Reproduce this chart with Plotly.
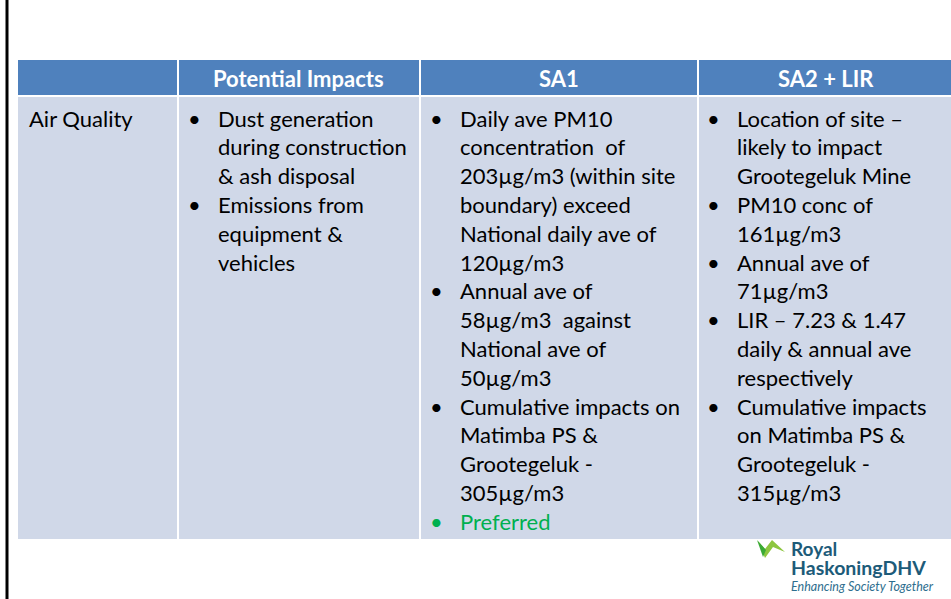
import plotly.graph_objects as go

# ---- data ----
headers = ["", "Potential Impacts", "SA1", "SA2 + LIR"]
row_label = "Air Quality"
potential_impacts = [
    ["Dust generation", "during construction", "& ash disposal"],
    ["Emissions from", "equipment &", "vehicles"],
]
sa1 = [
    ["Daily ave PM10", "concentration  of", "203\u00b5g/m3 (within site", "boundary) exceed",
     "National daily ave of", "120\u00b5g/m3"],
    ["Annual ave of", "58\u00b5g/m3  against", "National ave of", "50\u00b5g/m3"],
    ["Cumulative impacts on", "Matimba PS &", "Grootegeluk -", "305\u00b5g/m3"],
    ["Preferred"],
]
sa1_colors = ["#000000", "#000000", "#000000", "#00B050"]
sa2_lir = [
    ["Location of site \u2013", "likely to impact", "Grootegeluk Mine"],
    ["PM10 conc of", "161\u00b5g/m3"],
    ["Annual ave of", "71\u00b5g/m3"],
    ["LIR \u2013 7.23 & 1.47", "daily & annual ave", "respectively"],
    ["Cumulative impacts", "on Matimba PS &", "Grootegeluk -", "315\u00b5g/m3"],
]
logo_lines = ["Royal", "HaskoningDHV", "Enhancing Society Together"]

# ---- layout geometry (pixels of the browser window) ----
W, H = 951, 599
col_edges = [18, 178, 420, 698, 960]
head_top, head_bot, body_top, body_bot = 60, 95, 97, 539
HEAD_C, BODY_C = "#4F81BD", "#D0D8E8"
FONT = "Lato"
FS = 22
LINE = 28.8
first_y = 118

fig = go.Figure()
fig.update_xaxes(range=[0, W], visible=False, fixedrange=True)
fig.update_yaxes(range=[H, 0], visible=False, fixedrange=True)

shapes = []
# left black slide border
shapes.append(dict(type="line", x0=7, x1=7, y0=0, y1=H, line=dict(color="black", width=3)))
for i in range(4):
    x0 = col_edges[i] + (0 if i == 0 else 1)
    x1 = col_edges[i + 1] - 1
    shapes.append(dict(type="rect", x0=x0, x1=x1, y0=head_top, y1=head_bot,
                       fillcolor=HEAD_C, line=dict(width=0), layer="below"))
    shapes.append(dict(type="rect", x0=x0, x1=x1, y0=body_top, y1=body_bot,
                       fillcolor=BODY_C, line=dict(width=0), layer="below"))

ann = []
centers = [98, 298, 559, 826]
for i, h in enumerate(headers):
    if h:
        ann.append(dict(x=centers[i], y=(head_top + head_bot) / 2 + 1,
                        text="<b>" + h + "</b>", showarrow=False, xanchor="center", yanchor="middle",
                        font=dict(family=FONT, size=FS, color="white")))
ann.append(dict(x=27, y=first_y, text=row_label, showarrow=False, xanchor="left", yanchor="middle",
                font=dict(family=FONT, size=FS, color="black")))


def bullets(groups, bx, tx, colors=None):
    k = 0
    for gi, g in enumerate(groups):
        c = colors[gi] if colors else "#000000"
        ann.append(dict(x=bx, y=first_y + k * LINE, text="\u2022", showarrow=False, xanchor="center",
                        yanchor="middle", font=dict(family=FONT, size=FS, color=c)))
        for line in g:
            ann.append(dict(x=tx, y=first_y + k * LINE, text=line, showarrow=False, xanchor="left",
                            yanchor="middle", font=dict(family=FONT, size=FS, color=c)))
            k += 1


bullets(potential_impacts, 194, 216)
bullets(sa1, 436, 458, sa1_colors)
bullets(sa2_lir, 713, 735)

# logo
shapes.append(dict(type="path", path="M 758 541 L 765 558 L 773 547 L 785 552 L 772 540 L 765 549 Z",
                   fillcolor="#8DC63F", line=dict(width=0)))
shapes.append(dict(type="path", path="M 757 540 L 763 557 L 766 550 Z",
                   fillcolor="#3AAA35", line=dict(width=0)))
ann.append(dict(x=789, y=548, text="<b>" + logo_lines[0] + "</b>", showarrow=False, xanchor="left",
                yanchor="middle", font=dict(family=FONT, size=19, color="#1D5B79")))
ann.append(dict(x=789, y=567, text="<b>" + logo_lines[1] + "</b>", showarrow=False, xanchor="left",
                yanchor="middle", font=dict(family=FONT, size=19.5, color="#1D5B79")))
ann.append(dict(x=789, y=586, text="<i>" + logo_lines[2] + "</i>", showarrow=False, xanchor="left",
                yanchor="middle", font=dict(family=FONT, size=12.5, color="#2E6E8E")))

fig.update_layout(width=W, height=H, margin=dict(l=0, r=0, t=0, b=0),
                  paper_bgcolor="white", plot_bgcolor="white",
                  shapes=shapes, annotations=ann, showlegend=False)
fig.write_html("out.html", config={"displayModeBar": False},
               post_script="document.body.style.margin='0';document.body.style.overflow='hidden';")
